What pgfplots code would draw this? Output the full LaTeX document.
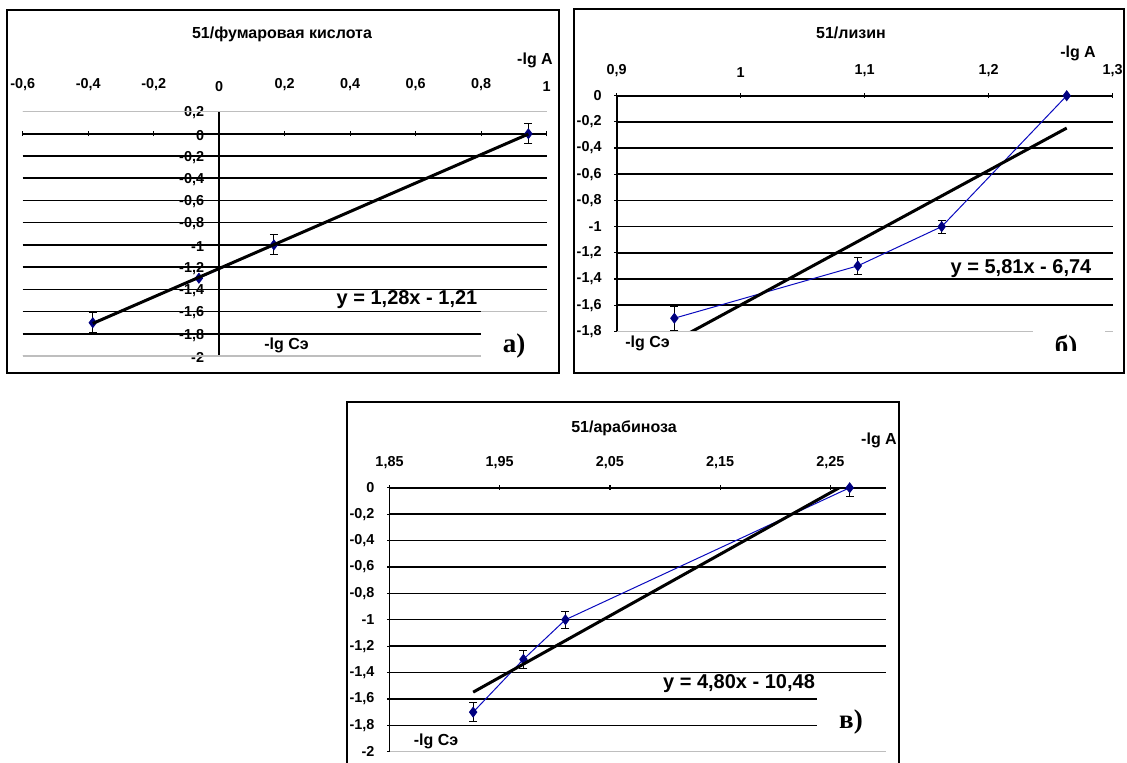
\documentclass[border=0pt]{standalone}
\usepackage{pgfplots}
\usepackage{pgfplotstable}
\pgfplotsset{compat=1.18}
\usepackage{fontspec}
\setmainfont{Liberation Sans}
\newfontfamily\seriffont{Liberation Serif}

\definecolor{navy}{RGB}{0,0,128}
\definecolor{serieblue}{RGB}{10,10,190}
\definecolor{gridgray}{RGB}{190,190,190}

\newcommand\lblfont{\bfseries\fontsize{8}{9.6}\selectfont}
\newcommand\eqfont{\bfseries\fontsize{10}{12}\selectfont}
\newcommand\tagfont{\seriffont\bfseries\fontsize{13.5}{16}\selectfont}

% x = -lg C, y = -lg A, e = error
\pgfplotstableread{
x       y     e
-0.386  -1.7  0.09
-0.062  -1.3  0
0.167   -1.0  0.09
0.944   0     0.09
}\dataA

\pgfplotstableread{
x       y     e
0.9465  -1.7  0.09
1.0944  -1.3  0.065
1.1621  -1.0  0.05
1.2629  0     0
}\dataB

\pgfplotstableread{
x       y     e
1.9259  -1.7  0.07
1.9715  -1.3  0.07
2.0096  -1.0  0.063
2.2675  0     0.07
}\dataC

\pgfplotsset{
  every non boxed x axis/.append style={x axis line style={-}},
  every non boxed y axis/.append style={y axis line style={-}},
  panel/.style={
    scale only axis, anchor=south west,
    axis line style={-, black, line width=0.8pt},
    tick align=outside, major tick length=2.5pt,
    tick style={black, line width=0.6pt},
    ymajorgrids, major grid style={black, line width=0.75pt},
    hide obscured x ticks=false, hide obscured y ticks=false,
    clip mode=individual,
    tick label style={font=\bfseries\fontsize{7.2}{8.6}\selectfont},
    yticklabel style={xshift=-2.8pt},
    /pgf/number format/use comma,
    /pgf/number format/1000 sep={},
    /pgf/number format/assume math mode=true,
  },
  meas/.style={
    serieblue, line width=0.5pt, mark=diamond*, mark size=2.4pt,
    mark options={fill=navy, draw=navy, solid},
    error bars/y dir=both, error bars/y explicit,
    error bars/error bar style={black, line width=0.5pt},
    error bars/error mark options={rotate=90, black, mark size=2pt, line width=0.5pt},
  },
  trend/.style={black, line width=1.5pt, no marks},
}

\begin{document}
\begin{tikzpicture}

% a) fumaric acid
\begin{axis}[panel,
  at={(11.35pt,-178pt)}, width=262pt, height=122.25pt,
  xmin=-0.6, xmax=1, ymin=-2, ymax=0.2,
  axis x line=middle, axis y line=middle,
  x axis line style={-}, y axis line style={-},
  xtick={-0.6,-0.4,-0.2,0,0.2,0.4,0.6,0.8,1},
  ytick={-2,-1.8,-1.6,-1.4,-1.2,-1,-0.8,-0.6,-0.4,-0.2,0,0.2},
  xticklabel style={anchor=south, yshift=19pt},
  yticklabel style={yshift=-0.7pt},
]
\addplot[meas] table[x=x, y=y, y error=e] {\dataA};
\addplot[trend] table[x=x, y={create col/linear regression={y=y}}] {\dataA};
\draw[gridgray, line width=0.75pt] (axis cs:-0.6,0.2) -- (axis cs:1,0.2);
\draw[gridgray, line width=0.75pt] (axis cs:-0.6,-2) -- (axis cs:1,-2);
\end{axis}

% b) lysine
\begin{axis}[panel,
  at={(308.35pt,-165.65pt)}, width=248pt, height=117.8pt,
  xmin=0.9, xmax=1.3, ymin=-1.8, ymax=0,
  axis x line=top, axis y line=left,
  x axis line style={-}, y axis line style={-},
  xtick={0.9,1,1.1,1.2,1.3},
  ytick={-1.8,-1.6,-1.4,-1.2,-1,-0.8,-0.6,-0.4,-0.2,0},
  xticklabel style={yshift=4.5pt},
]
\addplot[meas] table[x=x, y=y, y error=e] {\dataB};
\addplot[trend] table[x=x, y={create col/linear regression={y=y}}] {\dataB};
\draw[gridgray, line width=0.75pt] (axis cs:0.9,-1.8) -- (axis cs:1.3,-1.8);
\end{axis}

% c) arabinose
\begin{axis}[panel,
  at={(194.75pt,-375.85pt)}, width=248pt, height=132pt,
  xmin=1.85, xmax=2.3, ymin=-2, ymax=0,
  axis x line=top, axis y line=left,
  x axis line style={-}, y axis line style={-},
  xtick={1.85,1.95,2.05,2.15,2.25},
  ytick={-2,-1.8,-1.6,-1.4,-1.2,-1,-0.8,-0.6,-0.4,-0.2,0},
  xticklabel style={yshift=4.5pt},
]
\addplot[meas] table[x=x, y=y, y error=e] {\dataC};
\addplot[trend] table[x=x, y={create col/linear regression={y=y}}] {\dataC};
\draw[gridgray, line width=0.75pt] (axis cs:1.85,-2) -- (axis cs:2.3,-2);
\end{axis}

\begin{scope}[x=0.5pt, y=-0.5pt]
  % frames
  \draw[line width=0.9pt] (7,10) rectangle (558.7,373);
  \draw[line width=0.9pt] (574.3,9.3) rectangle (1124,373.3);
  \draw[line width=0.9pt] (347.3,402.3) rectangle (899,790);

  % panel tag boxes
  \fill[white] (480.7,305) rectangle (553,364);
  \draw[gridgray, line width=0.75pt] (480.7,311.55) -- (546.7,311.55);
  \fill[white] (1033,312) rectangle (1105,355);
  \fill[white] (816.7,686) rectangle (888,745);

  % a)
  \node[font=\lblfont, inner sep=0] at (282,34) {51/фумаровая кислота};
  \node[font=\lblfont, inner sep=0] at (535,60) {-lg A};
  \node[font=\lblfont, inner sep=0] at (286.5,345) {-lg Cэ};
  \node[font=\eqfont, inner sep=0] at (407,300) {y = 1,28x - 1,21};
  \node[font=\tagfont, inner sep=0, anchor=base] at (514,352) {a)};

  % b)
  \node[font=\lblfont, inner sep=0] at (851,33) {51/лизин};
  \node[font=\lblfont, inner sep=0] at (1078,53.3) {-lg A};
  \node[font=\lblfont, inner sep=0] at (647.5,343.3) {-lg Cэ};
  \node[font=\eqfont, inner sep=0] at (1021,268.3) {y = 5,81x - 6,74};
  \begin{scope}
    \clip (1030,315) rectangle (1110,350.7);
    \node[font=\tagfont, inner sep=0, anchor=base] at (1066,354) {б)};
  \end{scope}

  % c)
  \node[font=\lblfont, inner sep=0] at (624,428.3) {51/арабиноза};
  \node[font=\lblfont, inner sep=0] at (879,440) {-lg A};
  \node[font=\lblfont, inner sep=0] at (436,741.7) {-lg Cэ};
  \node[font=\eqfont, inner sep=0] at (739,683.3) {y = 4,80x - 10,48};
  \node[font=\tagfont, inner sep=0, anchor=base] at (851,728.5) {в)};
\end{scope}

\pgfresetboundingbox
\path[use as bounding box] (0,0) rectangle (563.5pt,-381pt);
\end{tikzpicture}
\end{document}
